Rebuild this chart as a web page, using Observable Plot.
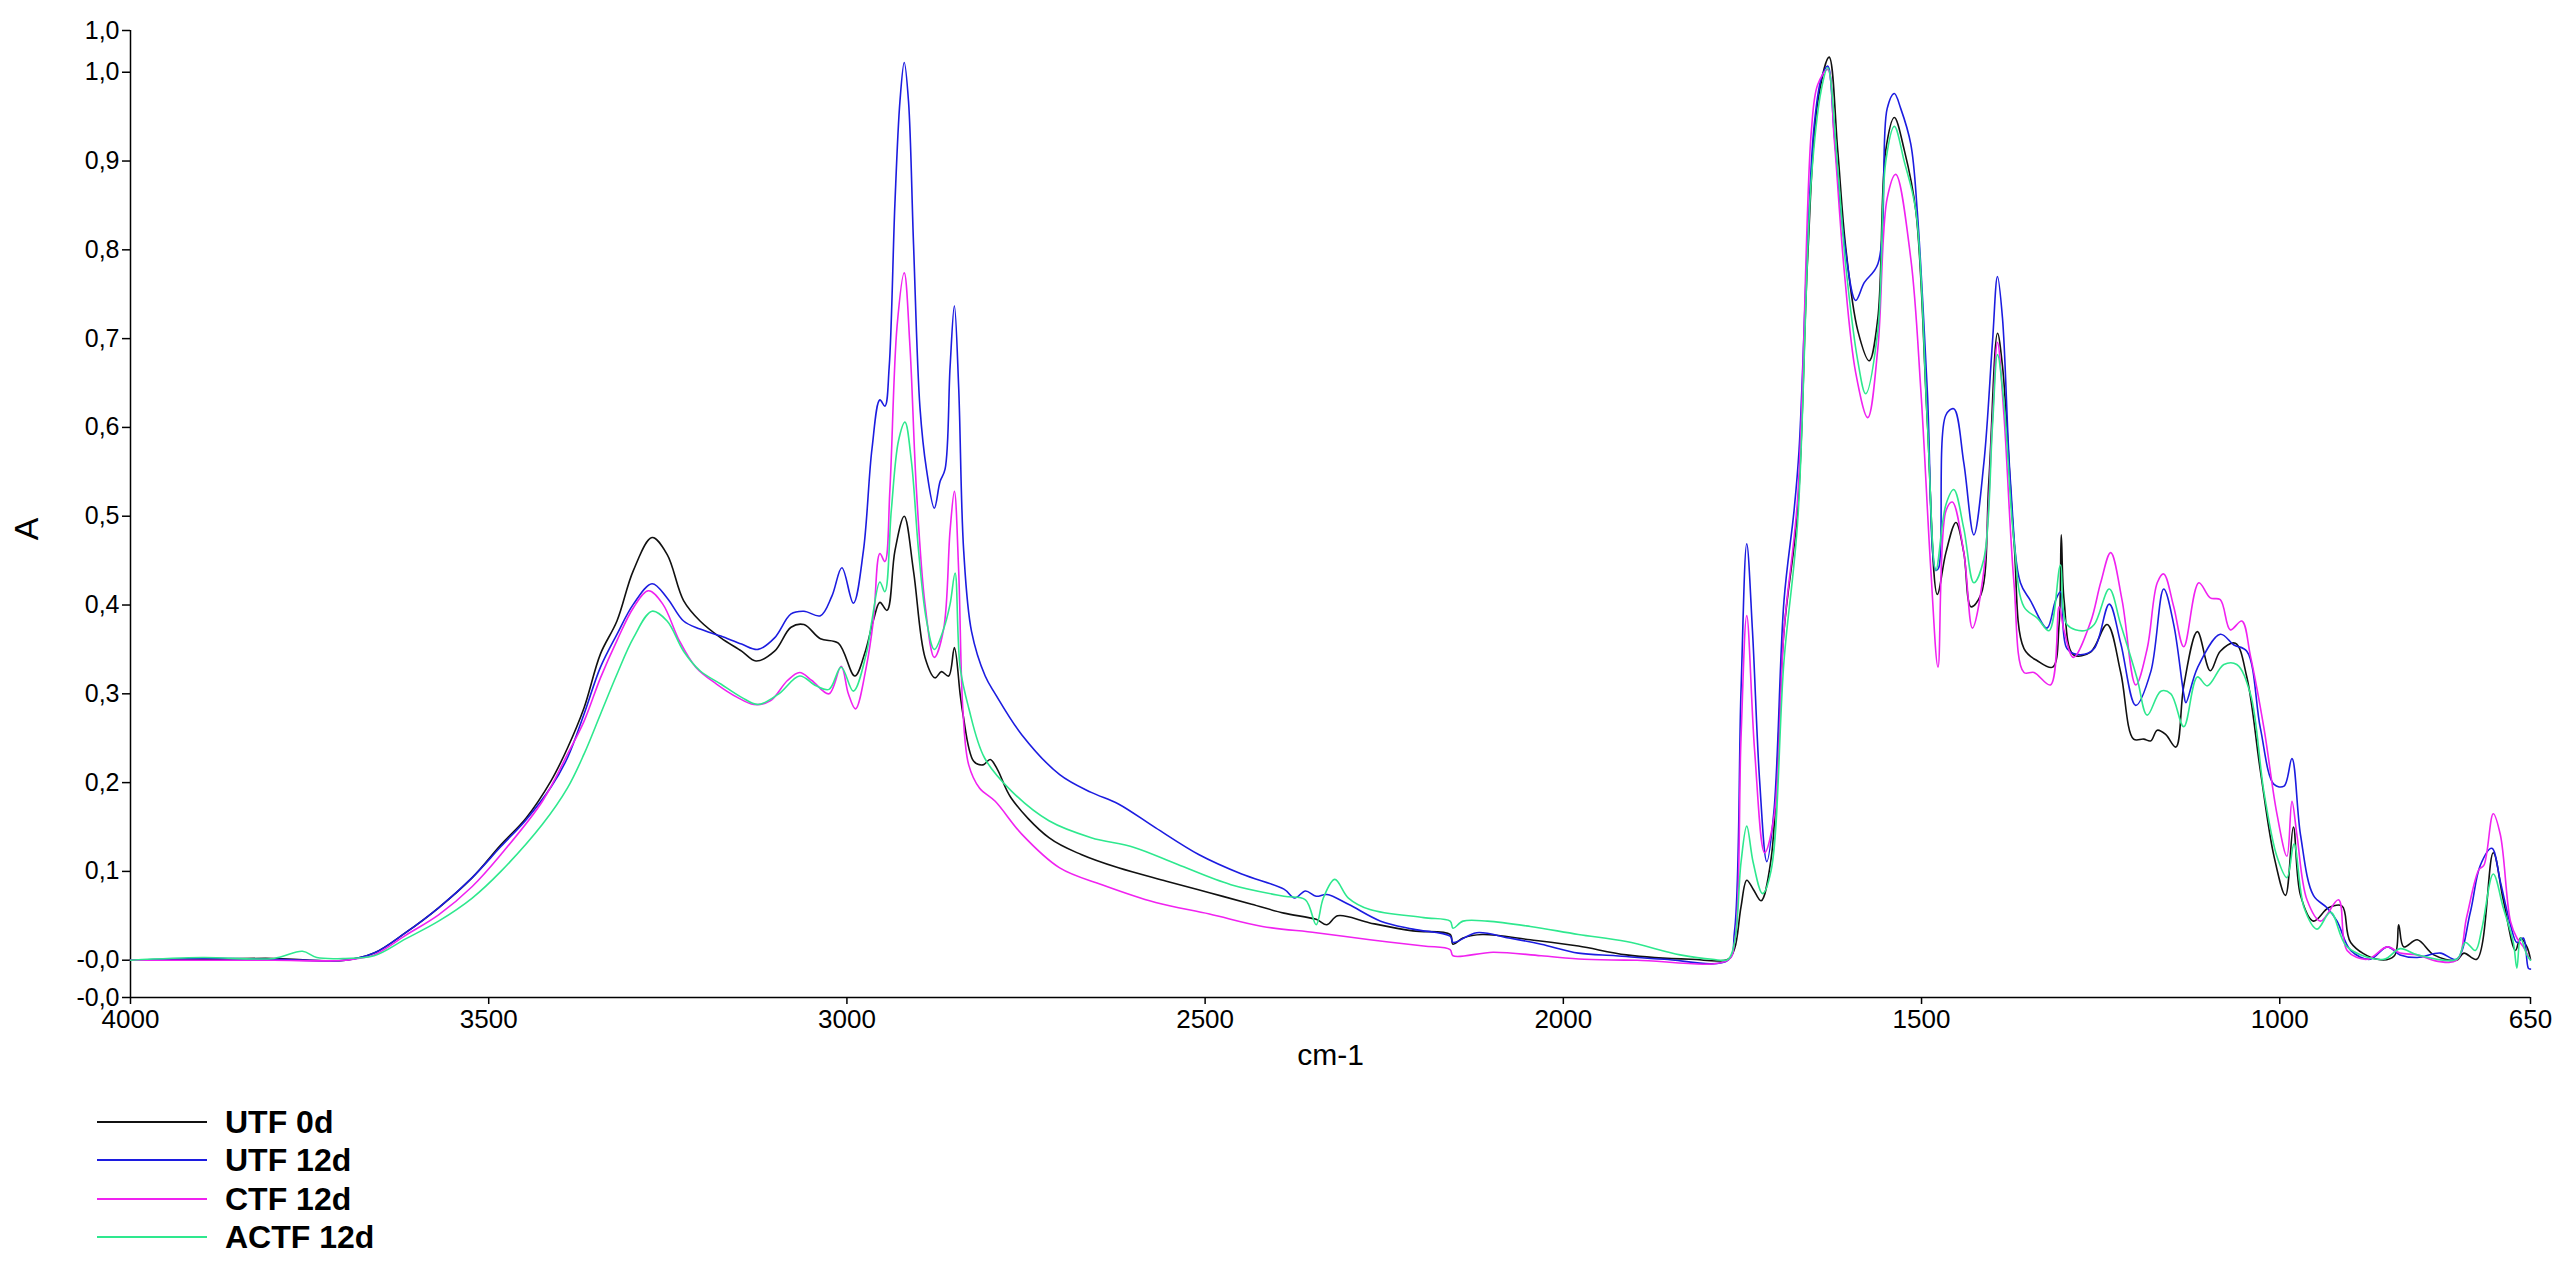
<!DOCTYPE html>
<html><head><meta charset="utf-8">
<script src="https://cdn.jsdelivr.net/npm/d3@7"></script>
<script src="https://cdn.jsdelivr.net/npm/@observablehq/plot@0.6"></script>
<style>
body{margin:0;background:#fff;font-family:"Liberation Sans",Arial,sans-serif;width:2560px;height:1270px;overflow:hidden;}
#legend{position:relative;height:185px;width:2560px;}
.swatch{position:absolute;left:97px;width:110px;height:2px;}
.lab{position:absolute;left:225px;font-weight:bold;font-size:32px;line-height:32px;color:#000;white-space:pre;}
</style></head><body><div id="chart"></div><div id="legend"></div>
<script>
const seriesNames = ["UTF 0d", "UTF 12d", "CTF 12d", "ACTF 12d"];
const seriesColors = ["#111111", "#1c1ce0", "#f022f0", "#2ee88e"];

const utf0dWn = [4000,3900,3800,3750,3700,3660,3616,3570,3523,3483,3448,3413,3390,3367,3344,3321,3298,3272,3251,3228,3205,3176,3147,3127,3101,3078,3060,3037,3012,2989,2975,2963,2954,2944,2933,2920,2907,2891,2877,2868,2858,2850,2842,2838,2823,2810,2800,2790,2771,2718,2673,2621,2554,2494,2435,2390,2345,2330,2315,2270,2210,2158,2154,2140,2113,2046,1979,1912,1822,1770,1761,1752,1744,1735,1724,1710,1692,1673,1659,1645,1629,1617,1606,1589,1573,1561,1550,1538,1524,1508,1492,1478,1466,1452,1441,1431,1417,1406,1394,1387,1371,1357,1338,1317,1308,1305,1301,1288,1264,1241,1222,1204,1190,1180,1171,1159,1145,1134,1115,1097,1083,1062,1046,1027,1008,992,981,971,953,932,913,901,864,840,834,827,808,785,753,743,725,702,688,671,664,655,650];
const utf0dA = [0.0,0.001,0.002,0.0,0.0,0.008,0.031,0.059,0.093,0.130,0.160,0.202,0.239,0.284,0.345,0.382,0.439,0.476,0.457,0.405,0.382,0.363,0.348,0.337,0.348,0.375,0.378,0.362,0.357,0.320,0.346,0.383,0.403,0.394,0.461,0.500,0.438,0.341,0.318,0.325,0.320,0.352,0.300,0.277,0.224,0.220,0.226,0.215,0.183,0.138,0.119,0.104,0.089,0.076,0.063,0.053,0.046,0.040,0.050,0.042,0.033,0.029,0.018,0.025,0.029,0.023,0.016,0.006,0.001,0.001,0.013,0.060,0.090,0.080,0.067,0.114,0.371,0.506,0.790,0.966,1.017,0.912,0.804,0.709,0.675,0.723,0.912,0.949,0.912,0.844,0.608,0.412,0.459,0.493,0.459,0.398,0.412,0.540,0.706,0.669,0.472,0.351,0.337,0.330,0.378,0.479,0.405,0.344,0.347,0.378,0.324,0.249,0.249,0.247,0.259,0.254,0.240,0.309,0.370,0.326,0.348,0.357,0.319,0.213,0.117,0.073,0.150,0.073,0.044,0.059,0.061,0.020,0.001,0.005,0.040,0.015,0.023,0.006,0.0,0.008,0.001,0.121,0.068,0.011,0.025,0.015,0.001];

const utf12dWn = [4000,3900,3800,3700,3660,3616,3570,3523,3483,3448,3413,3390,3367,3344,3321,3298,3272,3251,3228,3205,3176,3147,3124,3101,3078,3060,3037,3021,3007,2991,2977,2965,2954,2947,2941,2933,2926,2920,2914,2907,2898,2889,2878,2870,2863,2856,2850,2844,2837,2826,2807,2793,2756,2703,2659,2621,2569,2509,2449,2390,2375,2360,2345,2330,2300,2255,2210,2158,2154,2121,2076,2031,1979,1927,1859,1770,1761,1752,1744,1736,1726,1716,1706,1692,1678,1671,1659,1650,1640,1631,1622,1608,1592,1580,1561,1548,1538,1529,1515,1506,1492,1480,1476,1466,1455,1441,1427,1413,1401,1394,1387,1376,1362,1348,1325,1313,1306,1297,1278,1259,1238,1222,1201,1180,1162,1148,1134,1131,1115,1083,1064,1046,1027,1008,994,983,971,953,934,920,901,874,850,832,808,776,753,734,720,704,692,678,669,660,653,650];
const utf12dA = [0.0,0.002,0.001,0.0,0.008,0.031,0.059,0.093,0.128,0.158,0.195,0.228,0.277,0.330,0.367,0.401,0.424,0.408,0.382,0.373,0.365,0.356,0.350,0.363,0.390,0.393,0.388,0.410,0.442,0.402,0.461,0.576,0.631,0.624,0.668,0.852,0.967,1.011,0.967,0.806,0.622,0.553,0.509,0.539,0.553,0.668,0.737,0.645,0.461,0.370,0.320,0.300,0.254,0.209,0.189,0.176,0.149,0.119,0.097,0.080,0.070,0.078,0.072,0.074,0.063,0.044,0.035,0.027,0.020,0.031,0.025,0.018,0.008,0.005,0.001,0.0,0.033,0.303,0.469,0.371,0.202,0.111,0.168,0.405,0.506,0.574,0.811,0.939,0.993,1.007,0.932,0.811,0.743,0.763,0.784,0.959,0.976,0.959,0.919,0.844,0.642,0.439,0.442,0.614,0.621,0.560,0.479,0.560,0.696,0.770,0.723,0.540,0.425,0.405,0.374,0.405,0.415,0.351,0.344,0.351,0.401,0.357,0.287,0.325,0.418,0.378,0.300,0.290,0.329,0.367,0.355,0.348,0.261,0.198,0.196,0.227,0.141,0.073,0.059,0.044,0.011,0.001,0.015,0.006,0.003,0.008,0.001,0.054,0.107,0.126,0.088,0.040,0.020,0.025,-0.009,-0.010];

const ctf12dWn = [4000,3900,3800,3700,3660,3616,3570,3523,3483,3425,3390,3367,3344,3321,3298,3277,3257,3234,3211,3182,3153,3130,3107,3083,3066,3049,3025,3008,2998,2988,2973,2963,2954,2947,2940,2930,2920,2912,2903,2891,2878,2865,2856,2850,2844,2838,2830,2815,2793,2756,2703,2644,2569,2494,2420,2345,2270,2195,2158,2154,2098,2031,1971,1897,1770,1761,1752,1744,1733,1719,1706,1692,1673,1654,1645,1631,1622,1608,1592,1575,1561,1548,1536,1515,1501,1487,1477,1466,1457,1441,1429,1413,1401,1394,1385,1371,1357,1343,1320,1308,1301,1288,1264,1250,1236,1220,1201,1185,1171,1162,1148,1134,1113,1097,1083,1069,1053,1041,1022,1004,990,983,976,962,943,918,906,878,850,832,808,781,753,739,722,715,702,692,678,669,660,651];
const ctf12dA = [0.0,0.0,0.0,0.0,0.006,0.028,0.051,0.083,0.119,0.179,0.232,0.269,0.318,0.360,0.397,0.416,0.401,0.360,0.330,0.311,0.296,0.288,0.292,0.315,0.324,0.315,0.300,0.331,0.300,0.283,0.330,0.383,0.458,0.449,0.530,0.714,0.774,0.691,0.530,0.401,0.341,0.373,0.484,0.528,0.438,0.280,0.220,0.194,0.179,0.142,0.104,0.085,0.065,0.052,0.038,0.031,0.023,0.016,0.012,0.005,0.009,0.005,0.001,0.0,0.0,0.020,0.250,0.388,0.236,0.121,0.161,0.371,0.520,0.932,0.986,1.003,0.926,0.777,0.662,0.611,0.689,0.858,0.885,0.790,0.642,0.439,0.330,0.506,0.516,0.459,0.374,0.439,0.608,0.696,0.614,0.425,0.324,0.324,0.310,0.398,0.371,0.341,0.381,0.425,0.459,0.405,0.310,0.351,0.425,0.435,0.398,0.353,0.425,0.408,0.406,0.372,0.382,0.343,0.261,0.165,0.117,0.179,0.141,0.068,0.044,0.068,0.011,0.001,0.015,0.008,0.006,-0.001,0.0,0.049,0.102,0.107,0.165,0.141,0.044,0.025,0.015,0.001];

const actf12dWn = [4000,3900,3800,3760,3740,3700,3660,3616,3570,3523,3483,3425,3390,3367,3344,3321,3298,3272,3251,3228,3205,3176,3147,3124,3095,3066,3043,3025,3008,2991,2973,2965,2954,2947,2938,2928,2919,2910,2900,2889,2878,2865,2856,2849,2842,2830,2808,2771,2718,2659,2599,2539,2464,2390,2360,2345,2335,2319,2300,2270,2195,2158,2154,2140,2106,2046,1979,1912,1837,1792,1770,1761,1752,1744,1735,1722,1710,1692,1673,1654,1640,1631,1617,1606,1589,1578,1561,1550,1538,1524,1508,1492,1480,1466,1455,1441,1427,1413,1401,1394,1385,1371,1357,1338,1322,1306,1297,1273,1259,1238,1222,1199,1185,1166,1152,1134,1115,1101,1078,1060,1041,1022,1004,990,980,966,948,929,906,855,832,808,753,741,727,718,702,688,674,669,664,655,650];
const actf12dA = [0.0,0.003,0.002,0.010,0.003,0.002,0.005,0.024,0.044,0.070,0.100,0.153,0.194,0.232,0.277,0.322,0.363,0.393,0.382,0.348,0.326,0.311,0.296,0.288,0.300,0.320,0.309,0.305,0.330,0.303,0.345,0.383,0.426,0.415,0.507,0.585,0.606,0.562,0.461,0.383,0.350,0.373,0.401,0.436,0.330,0.284,0.228,0.191,0.157,0.138,0.127,0.108,0.085,0.072,0.068,0.040,0.070,0.091,0.070,0.057,0.048,0.044,0.036,0.044,0.044,0.038,0.029,0.021,0.006,0.001,0.001,0.020,0.110,0.151,0.110,0.075,0.101,0.337,0.493,0.878,0.980,1.005,0.892,0.784,0.675,0.638,0.709,0.899,0.939,0.899,0.844,0.608,0.439,0.513,0.530,0.486,0.425,0.452,0.601,0.682,0.628,0.472,0.398,0.385,0.371,0.445,0.378,0.371,0.378,0.418,0.378,0.317,0.276,0.303,0.300,0.263,0.319,0.309,0.333,0.333,0.300,0.189,0.117,0.093,0.131,0.059,0.035,0.054,0.015,0.001,0.013,0.006,0.001,0.020,0.011,0.035,0.097,0.059,0.020,-0.009,0.025,0.006,0.0];

const xDomain = [4000, 650];
const yDomain = [-0.042, 1.047];
const xTicks = [4000, 3500, 3000, 2500, 2000, 1500, 1000, 650];
const yTickValues = [-0.042, 0, 0.1, 0.2, 0.3, 0.4, 0.5, 0.6, 0.7, 0.8, 0.9, 1.0, 1.047];
const yTickLabels = ["-0,0", "-0,0", "0,1", "0,2", "0,3", "0,4", "0,5", "0,6", "0,7", "0,8", "0,9", "1,0", "1,0"];

const seriesWn = [utf0dWn, utf12dWn, ctf12dWn, actf12dWn];
const seriesA = [utf0dA, utf12dA, ctf12dA, actf12dA];
const rows = seriesNames.flatMap((name, s) => seriesWn[s].map((wn, i) => ({series: name, wn, a: seriesA[s][i]})));

const chart = Plot.plot({
  width: 2560, height: 1085,
  marginLeft: 130, marginRight: 30, marginTop: 30, marginBottom: 88,
  style: {fontFamily: "Liberation Sans, Arial, sans-serif", background: "#fff", color: "#000", overflow: "visible"},
  x: {domain: xDomain},
  y: {domain: yDomain},
  color: {domain: seriesNames, range: seriesColors},
  marks: [
    Plot.ruleX([xDomain[0]], {stroke: "#000", strokeWidth: 1.5}),
    Plot.ruleY([yDomain[0]], {stroke: "#000", strokeWidth: 1.5}),
    Plot.axisX({ticks: xTicks, tickSize: 7, tickPadding: 5, fontSize: 26, label: null, tickFormat: d => String(d), strokeWidth: 1.5}),
    Plot.axisY({ticks: yTickValues, tickSize: 8, tickPadding: 3, fontSize: 25, label: null, tickFormat: d => yTickLabels[yTickValues.indexOf(d)], strokeWidth: 1.5}),
    Plot.text(["A"], {frameAnchor: "left", dx: -103, dy: 15, rotate: -90, fontSize: 34, textAnchor: "middle", lineAnchor: "middle"}),
    Plot.text(["cm-1"], {frameAnchor: "bottom", dy: 58, fontSize: 30, textAnchor: "middle", lineAnchor: "middle"}),
    Plot.line(rows, {x: "wn", y: "a", z: "series", stroke: "series", strokeWidth: 1.6, curve: "catmull-rom"})
  ]
});
document.getElementById("chart").appendChild(chart);

const legend = document.getElementById("legend");
const rowCenters = [37, 75, 114, 152];
seriesNames.forEach((name, i) => {
  const sw = document.createElement("div");
  sw.className = "swatch";
  sw.style.top = (rowCenters[i] - 1) + "px";
  sw.style.background = seriesColors[i];
  legend.appendChild(sw);
  const lb = document.createElement("div");
  lb.className = "lab";
  lb.style.top = (rowCenters[i] - 16) + "px";
  lb.textContent = name;
  legend.appendChild(lb);
});
</script></body></html>
